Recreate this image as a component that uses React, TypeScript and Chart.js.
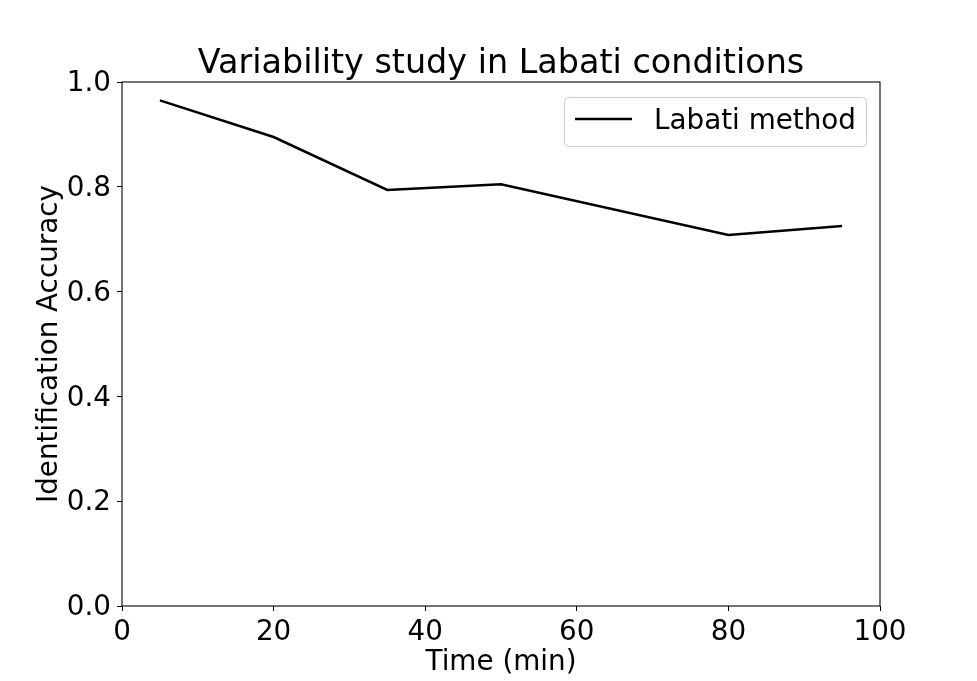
import { Chart, registerables, Plugin } from "chart.js";
import { useRef, useEffect } from "react";

Chart.register(...registerables);

// Data
const times = [5, 20, 35, 50, 80, 95];
const accuracy = [0.965, 0.895, 0.794, 0.805, 0.708, 0.725];
const seriesLabel = "Labati method";
const chartTitle = "Variability study in Labati conditions";
const xTitle = "Time (min)";
const yTitle = "Identification Accuracy";

const FONT = "'DejaVu Sans', sans-serif";
const SIZE = 27.8;

// matplotlib-like frame, title and legend
const decorPlugin: Plugin<"line"> = {
    id: "decor",
    afterDraw(chart) {
        const { ctx, chartArea } = chart;
        const { left, right, top, bottom } = chartArea;
        ctx.save();

        // axes box
        ctx.strokeStyle = "#000";
        ctx.lineWidth = 1.1;
        ctx.strokeRect(left, top, right - left, bottom - top);

        // title
        ctx.fillStyle = "#000";
        ctx.font = `33.4px ${FONT}`;
        ctx.textAlign = "center";
        ctx.textBaseline = "alphabetic";
        ctx.fillText(chartTitle, (left + right) / 2, top - 9);

        // legend
        const bx1 = right - 14;
        const bx0 = left + 442;
        const by0 = top + 15;
        const by1 = top + 64;
        ctx.beginPath();
        ctx.roundRect(bx0 + 0.5, by0 + 0.5, bx1 - bx0, by1 - by0, 4);
        ctx.fillStyle = "rgba(255,255,255,0.8)";
        ctx.fill();
        ctx.strokeStyle = "#cccccc";
        ctx.lineWidth = 1;
        ctx.stroke();

        ctx.beginPath();
        ctx.moveTo(bx0 + 11, top + 37);
        ctx.lineTo(bx0 + 68, top + 37);
        ctx.strokeStyle = "#000";
        ctx.lineWidth = 2.5;
        ctx.stroke();

        ctx.fillStyle = "#000";
        ctx.font = `${SIZE}px ${FONT}`;
        ctx.textAlign = "left";
        ctx.fillText(seriesLabel, bx0 + 90, top + 47);

        ctx.restore();
    },
};

export default function App() {
    const canvasRef = useRef<HTMLCanvasElement | null>(null);

    useEffect(() => {
        const canvas = canvasRef.current;
        if (!canvas) return;
        const chart = new Chart(canvas, {
            type: "line",
            data: {
                datasets: [
                    {
                        label: seriesLabel,
                        data: times.map((t, i) => ({ x: t, y: accuracy[i] })),
                        borderColor: "#000",
                        borderWidth: 2.5,
                        pointRadius: 0,
                        tension: 0,
                        fill: false,
                    },
                ],
            },
            options: {
                responsive: false,
                animation: false,
                layout: { padding: { left: 0, top: 82, right: 97, bottom: 0 } },
                plugins: {
                    legend: { display: false },
                    title: { display: false },
                    tooltip: { enabled: false },
                },
                scales: {
                    x: {
                        type: "linear",
                        min: 0,
                        max: 100,
                        offset: false,
                        afterFit: (scale) => {
                            scale.height = 75;
                        },
                        ticks: {
                            stepSize: 20,
                            autoSkip: false,
                            maxRotation: 0,
                            padding: 5,
                            color: "#000",
                            font: { family: FONT, size: SIZE },
                        },
                        grid: {
                            drawOnChartArea: false,
                            drawTicks: true,
                            tickLength: 5,
                            color: "#000",
                            lineWidth: 1,
                        },
                        border: { display: false },
                        title: {
                            display: true,
                            text: xTitle,
                            color: "#000",
                            font: { family: FONT, size: SIZE },
                            padding: { top: 0, bottom: 2 },
                        },
                    },
                    y: {
                        type: "linear",
                        min: 0,
                        max: 1,
                        afterFit: (scale) => {
                            scale.width = 122;
                        },
                        ticks: {
                            stepSize: 0.2,
                            autoSkip: false,
                            padding: 6,
                            labelOffset: 2,
                            color: "#000",
                            font: { family: FONT, size: SIZE },
                            callback: (v) => Number(v).toFixed(1),
                        },
                        grid: {
                            drawOnChartArea: false,
                            drawTicks: true,
                            tickLength: 5,
                            color: "#000",
                            lineWidth: 1,
                        },
                        border: { display: false },
                        title: {
                            display: true,
                            text: yTitle,
                            color: "#000",
                            font: { family: FONT, size: SIZE },
                            padding: { top: 33, bottom: 0 },
                        },
                    },
                },
            },
            plugins: [decorPlugin],
        });
        return () => {
            chart.destroy();
        };
    }, []);

    return (
        <div style={{ position: "absolute", left: 0, top: 0, width: 977, height: 681, background: "#fff" }}>
            <canvas ref={canvasRef} width={977} height={681}></canvas>
        </div>
    );
}
